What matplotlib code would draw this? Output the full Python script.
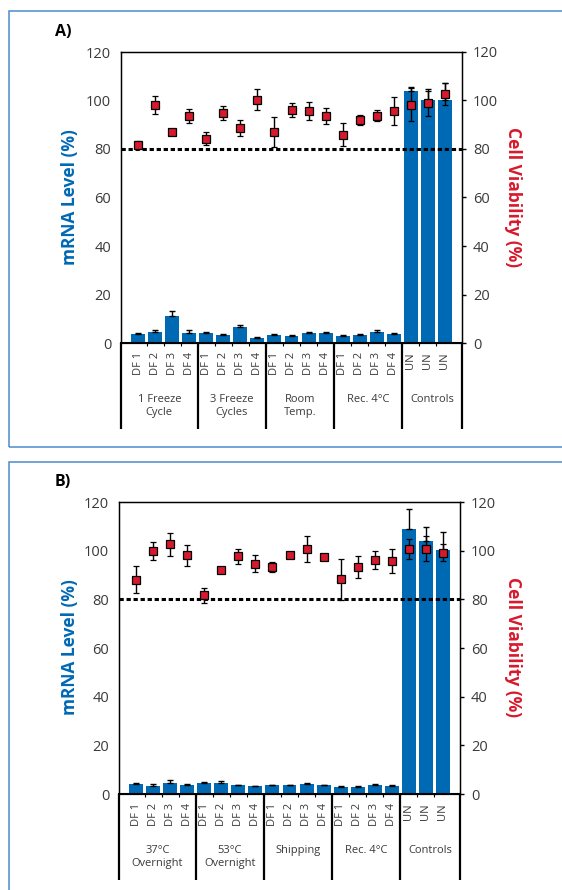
import matplotlib
matplotlib.use("Agg")
import matplotlib.pyplot as plt
import matplotlib.transforms as mtransforms
from matplotlib.patches import Rectangle

plt.rcParams['font.family'] = ['Open Sans', 'DejaVu Sans']

# ---------------- data ----------------
tick_labels = ["DF 1", "DF 2", "DF 3", "DF 4"] * 4 + ["UN", "UN", "UN"]

groups_a = ["1 Freeze\nCycle", "3 Freeze\nCycles", "Room\nTemp.", "Rec. 4°C", "Controls"]
mrna_a = [3.85, 4.7, 11.3, 4.3, 4.3, 3.4, 6.7, 2.2, 3.4, 3.0, 4.3, 4.3, 3.0, 3.4, 4.7, 3.85,
          104.1, 100.3, 100.3]
mrna_a_err = [0.3, 0.7, 1.8, 1.0, 0.2, 0.2, 0.7, 0.3, 0.2, 0.3, 0.3, 0.3, 0.3, 0.3, 0.7, 0.3,
              1.4, 4.4, 7.0]
via_a = [81.8, 98.1, 87.1, 93.6, 84.3, 94.8, 88.7, 100.3, 87.0, 96.1, 95.7, 93.7, 85.9, 92.0,
         93.7, 95.7, 98.3, 98.8, 102.8]
via_a_err = [1.5, 3.8, 0.6, 2.9, 2.7, 2.9, 3.3, 4.3, 6.2, 3.0, 3.7, 3.4, 4.7, 2.2, 2.3, 5.6,
             6.7, 5.2, 4.5]

groups_b = ["37°C\nOvernight", "53°C\nOvernight", "Shipping", "Rec. 4°C", "Controls"]
mrna_b = [4.1, 3.3, 4.5, 3.7, 4.5, 4.5, 3.7, 3.3, 3.7, 3.7, 4.1, 3.7, 2.9, 2.9, 3.7, 3.3,
          109.1, 104.1, 100.4]
mrna_b_err = [0.3, 0.7, 1.2, 0.3, 0.3, 0.7, 0.1, 0.1, 0.2, 0.2, 0.3, 0.2, 0.2, 0.2, 0.3, 0.2,
              8.1, 5.6, 7.3]
via_b = [88.1, 99.9, 102.7, 98.2, 81.6, 92.0, 97.7, 94.7, 93.3, 98.4, 100.7, 97.5, 88.3, 93.4,
         96.2, 95.7, 100.5, 100.8, 99.2]
via_b_err = [5.6, 3.7, 4.7, 4.3, 3.1, 0.5, 3.1, 3.6, 2.1, 0.7, 5.2, 0.8, 8.4, 4.5, 3.7, 4.9,
             4.1, 5.1, 3.6]

threshold = 80
group_bounds = [-1, 3.5, 7.5, 11.5, 15.5, 19]
yticks = [0, 20, 40, 60, 80, 100, 120]

BLUE = "#0069b4"
RED = "#d7192d"
TICKC = "#3a3a3a"

W, H = 562, 890
fig = plt.figure(figsize=(W / 100, H / 100), dpi=100)

# panel frames
for top, bot in [(11, 447), (462, 895)]:
    fig.patches.append(Rectangle((9 / W, 1 - bot / H), 1.2, (bot - top) / H,
                                 transform=fig.transFigure, fill=False,
                                 edgecolor="#4a8ccb", lw=1.1))


def panel(left, top, bottom, right, label, groups, mrna, mrna_err, via, via_err,
          label_y, ylab_center):
    ax = fig.add_axes([left / W, 1 - bottom / H, (right - left) / W, (bottom - top) / H])
    x = list(range(len(mrna)))
    ax.bar(x, mrna, width=0.82, color=BLUE, zorder=2)
    ax.errorbar(x, mrna, yerr=[[0] * len(mrna), mrna_err], fmt="none", ecolor="black",
                elinewidth=1, capsize=2, capthick=1, zorder=3)
    ax.set_xlim(-1, 19)
    ax.set_ylim(0, 120)
    ax.set_yticks(yticks)
    ax.tick_params(axis="y", length=0, pad=7, labelsize=10.5, labelcolor=TICKC)
    ax.set_xticks([])
    ax.set_xticks([i + 0.5 for i in range(18)], minor=True)
    ax.tick_params(axis="x", which="minor", length=2.5, width=0.8, direction="out")
    for s in ax.spines.values():
        s.set_linewidth(1.0)
    ax.spines["bottom"].set_linewidth(1.5)

    ax2 = ax.twinx()
    ax2.set_ylim(0, 120)
    ax2.set_yticks(yticks)
    ax2.tick_params(axis="y", length=3, width=1, pad=5, labelsize=10.5, labelcolor=TICKC)
    ax2.axhline(threshold, color="black", lw=2.2, linestyle=(0, (1.4, 0.9)), zorder=1)
    ax2.errorbar(x, via, yerr=via_err, fmt="s", color=RED, markeredgecolor="black",
                 markeredgewidth=0.9, markersize=5.5, ecolor="black", elinewidth=1,
                 capsize=2, capthick=1, zorder=4)

    trans = mtransforms.blended_transform_factory(ax.transData, ax.transAxes)
    hpx = bottom - top
    # separators
    for b in group_bounds:
        ax.plot([b, b], [0, -86 / hpx], transform=trans, color="black", lw=1.6,
                clip_on=False, solid_capstyle="butt")
    # DF labels
    for i, t in enumerate(tick_labels):
        ax.text(i, -9 / hpx, t, transform=trans, rotation=90, ha="center", va="top",
                fontsize=8, color=TICKC)
    # group labels
    for g in range(5):
        cx = (group_bounds[g] + group_bounds[g + 1]) / 2
        ax.text(cx, -51 / hpx, groups[g], transform=trans, ha="center", va="top",
                fontsize=8, color=TICKC, linespacing=1.25)

    fig.text(70 / W, 1 - ylab_center / H, "mRNA Level (%)", rotation=90, ha="center",
             va="center", fontsize=12.5, fontweight="bold", color=BLUE)
    fig.text(513 / W, 1 - ylab_center / H, "Cell Viability (%)", rotation=270,
             ha="center", va="center", fontsize=12.5, fontweight="bold", color=RED)
    fig.text(63 / W, 1 - label_y / H, label, ha="center", va="center", fontsize=11.5,
             fontweight="bold", color="black")


panel(121, 52, 343, 462, "A)", groups_a, mrna_a, mrna_a_err, via_a, via_a_err, 32, 197)
panel(119, 502, 794, 460, "B)", groups_b, mrna_b, mrna_b_err, via_b, via_b_err, 482, 647)

fig.savefig("out.png", dpi=100)
